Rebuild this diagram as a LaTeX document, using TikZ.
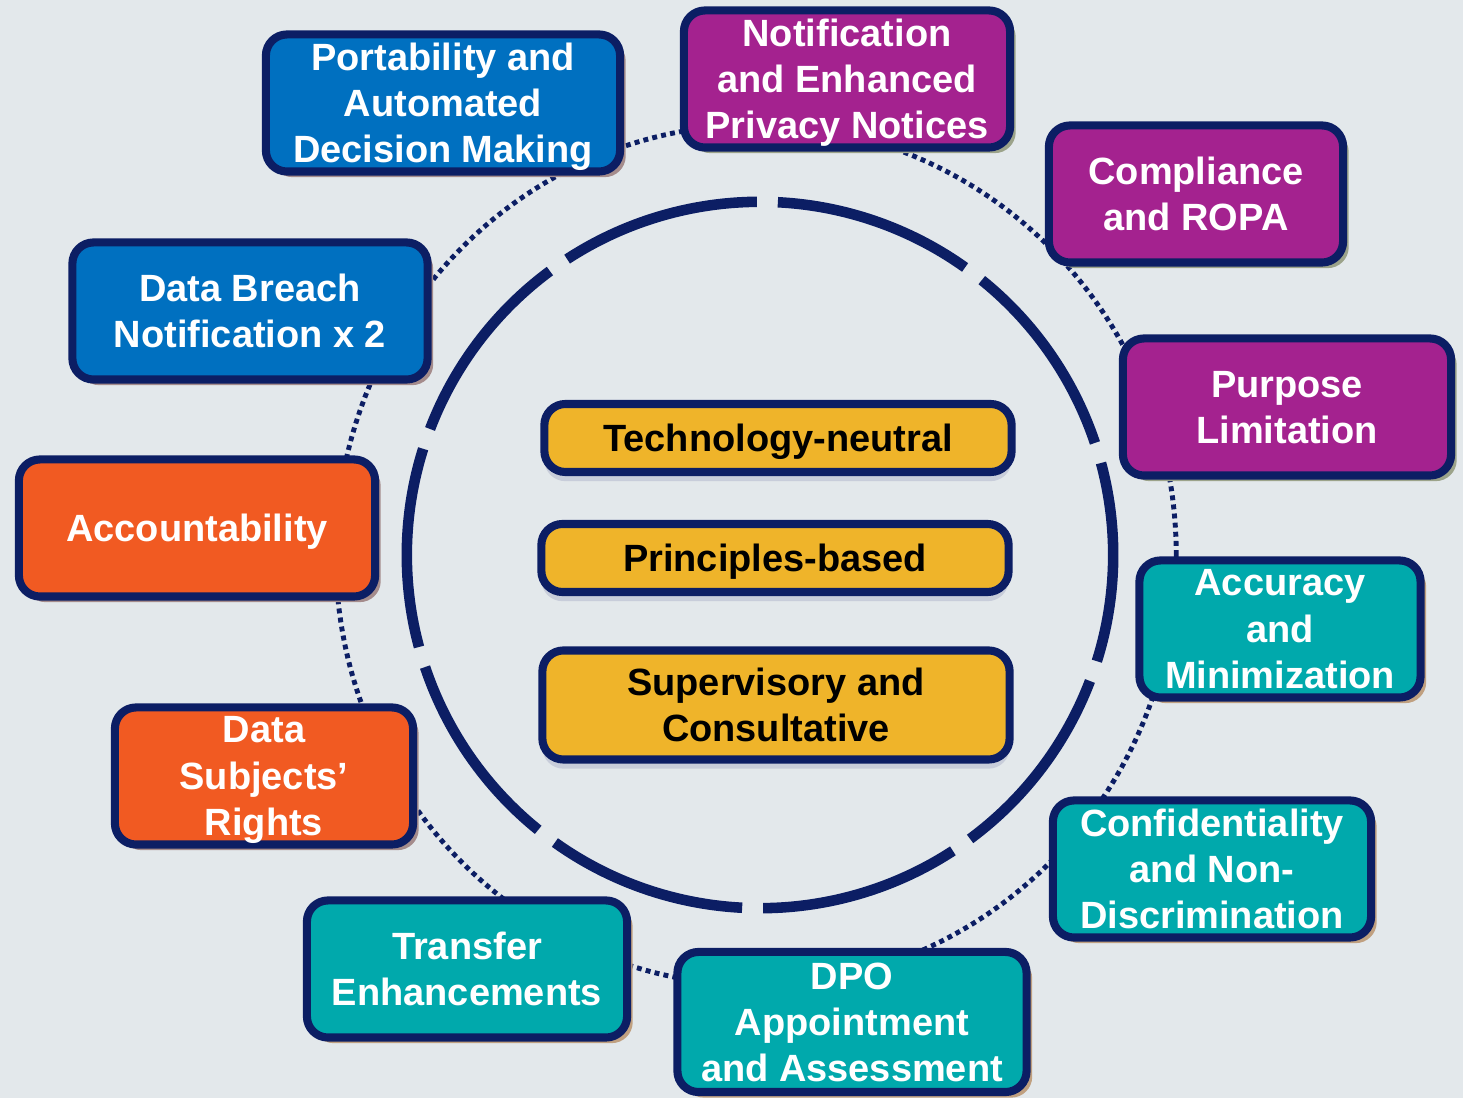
\documentclass[tikz,border=0pt]{standalone}
\usepackage{fontspec}
\setmainfont{Liberation Sans}
\usetikzlibrary{shadows}
\definecolor{bgcol}{RGB}{227,232,235}
\definecolor{navy}{RGB}{12,30,100}
\definecolor{gdprblue}{RGB}{0,112,192}
\definecolor{gdprpurple}{RGB}{164,34,143}
\definecolor{gdprteal}{RGB}{0,169,172}
\definecolor{gdprorange}{RGB}{241,90,34}
\definecolor{gdpryellow}{RGB}{239,180,42}
\definecolor{shademauve}{RGB}{165,140,140}
\definecolor{shadeolive}{RGB}{156,163,138}
\definecolor{shadetan}{RGB}{192,160,128}
\definecolor{shadegrey}{RGB}{200,205,218}

\begin{document}
\begin{tikzpicture}[x=0.01cm, y=-0.01cm,
  item/.style={draw=navy, line width=2.3pt, rounded corners=6pt, align=center,
    inner xsep=2pt, inner ysep=0.5pt, text depth=0pt, text=white, minimum height=1.37cm,
    font=\fontsize{10.8}{13.1}\selectfont\bfseries},
  bluebox/.style={item, fill=gdprblue, minimum width=#1,
    drop shadow={shadow xshift=1.6pt, shadow yshift=-1.6pt, fill=shademauve, opacity=1}},
  purplebox/.style={item, fill=gdprpurple, minimum width=#1,
    drop shadow={shadow xshift=1.6pt, shadow yshift=-1.6pt, fill=shadeolive, opacity=1}},
  tealbox/.style={item, fill=gdprteal, minimum width=#1,
    drop shadow={shadow xshift=1.6pt, shadow yshift=-1.6pt, fill=shadetan, opacity=1}},
  orangebox/.style={item, fill=gdprorange, minimum width=#1,
    drop shadow={shadow xshift=1.6pt, shadow yshift=-1.6pt, fill=shademauve, opacity=1}},
  corebox/.style={item, fill=gdpryellow, text=black, minimum width=4.67cm,
    drop shadow={shadow xshift=0pt, shadow yshift=-2.6pt, fill=shadegrey, opacity=1}},
  ring/.style={draw=navy, line width=3pt},
  dotring/.style={draw=navy, line width=1.4pt, dash pattern=on 1.4pt off 1.2pt}]
\useasboundingbox (0,0) rectangle (1463,1098);
\fill[bgcol] (0,0) rectangle (1463,1098);
\draw[dotring] (756,555) ellipse [x radius=4.2cm, y radius=4.3cm];
\foreach \k in {0,...,9}
  \draw[ring] (760,555) ++(90.5+36*\k:3.53cm)
    arc[start angle=90.5+36*\k, end angle=123.1+36*\k, radius=3.53cm];
\node[bluebox=3.54cm] at (443,103) (port) {Portability and\\Automated\\Decision Making};
\node[purplebox=3.26cm] at (847,79) (notif) {Notification\\and Enhanced\\Privacy Notices};
\node[purplebox=2.94cm] at (1196,194) (ropa) {Compliance\\and ROPA};
\node[purplebox=3.28cm] at (1287,407) (purp) {Purpose\\Limitation};
\node[tealbox=2.81cm] at (1280,629) (accu) {Accuracy\\and\\Minimization};
\node[tealbox=3.18cm] at (1212,869) (conf) {Confidentiality\\and Non-\\Discrimination};
\node[tealbox=3.49cm, minimum height=1.40cm] at (852,1022) (dpo) {DPO\\Appointment\\and Assessment};
\node[tealbox=3.20cm] at (467,969) (trans) {Transfer\\Enhancements};
\node[orangebox=2.98cm] at (264,776) (rights) {Data\\Subjects’\\Rights};
\node[orangebox=3.56cm] at (197,528) (acct) {Accountability};
\node[bluebox=3.55cm] at (250,311) (breach) {Data Breach\\Notification x 2};
\node[corebox, minimum height=0.68cm] at (778,438) (tech) {Technology-neutral};
\node[corebox, minimum height=0.68cm] at (775,558) (princ) {Principles-based};
\node[corebox, minimum height=1.09cm] at (776,705) (superv) {Supervisory and\\Consultative};
\end{tikzpicture}
\end{document}
